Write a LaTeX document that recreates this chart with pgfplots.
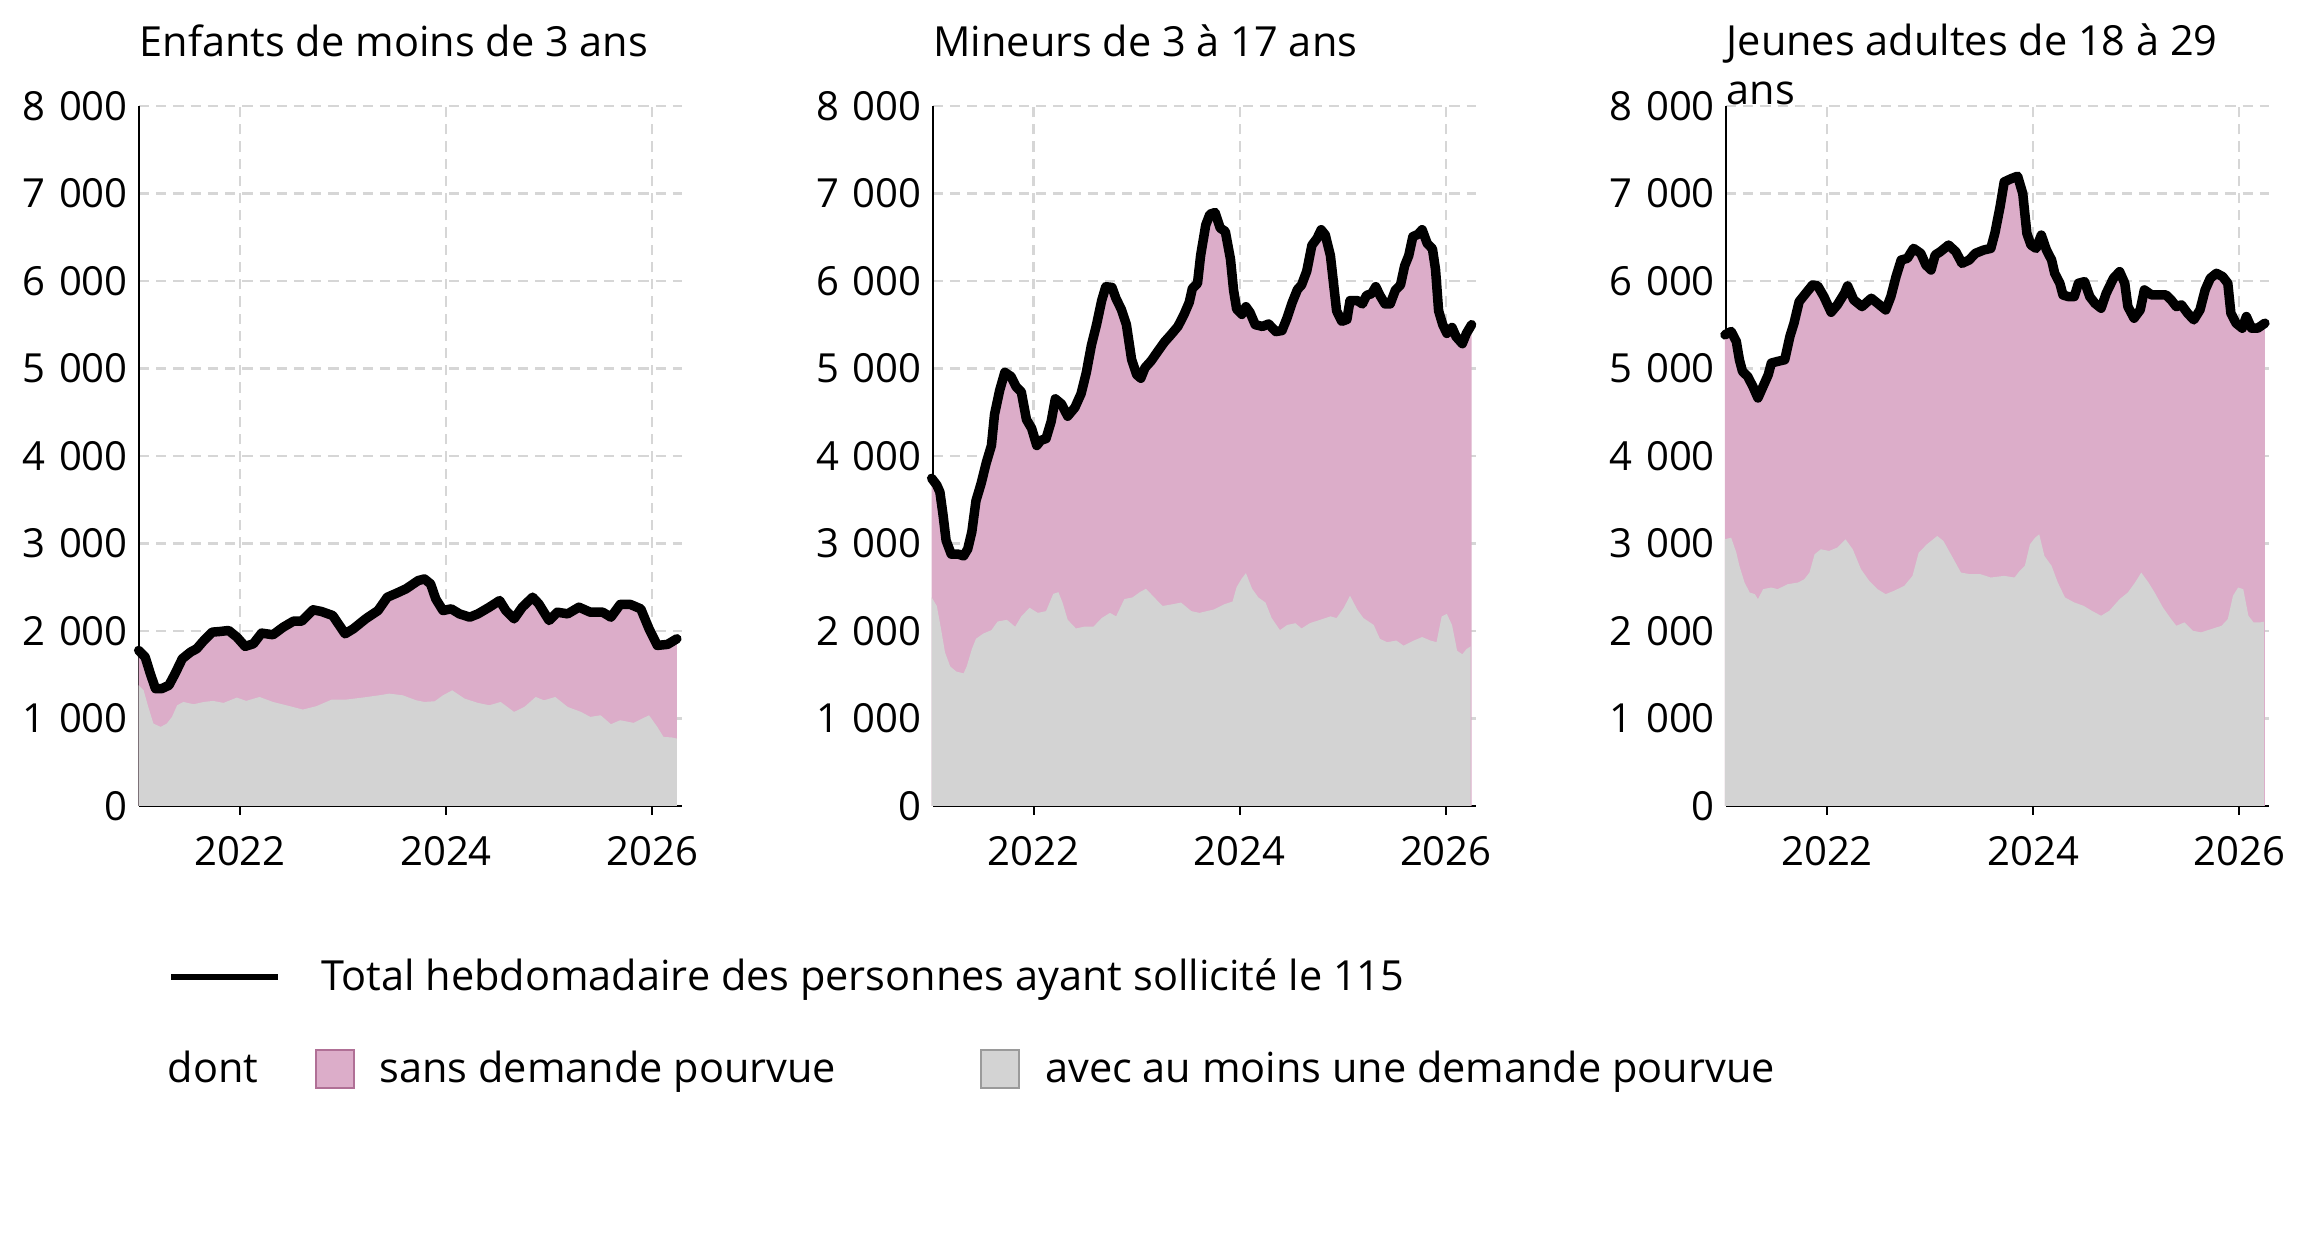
\documentclass[border=0pt]{standalone}
\usepackage{pgfplots}
\pgfplotsset{compat=1.18}
\usepackage{fontspec}
\setmainfont{Open Sans}
\definecolor{pinkc}{HTML}{DCADC9}
\definecolor{greyc}{HTML}{D3D3D3}
\definecolor{gridc}{HTML}{D6D6D6}
\definecolor{pinkb}{HTML}{B07096}
\definecolor{greyb}{HTML}{9A9A9A}

\pgfplotstableread{
x y
2021.017 1778
2021.08 1702
2021.13 1512
2021.18 1341
2021.24 1341
2021.31 1379
2021.37 1512
2021.44 1683
2021.52 1759
2021.58 1797
2021.65 1892
2021.73 1987
2021.81 1995
2021.89 2006
2021.97 1930
2022.05 1824
2022.13 1854
2022.21 1976
2022.32 1957
2022.42 2044
2022.52 2113
2022.60 2113
2022.71 2242
2022.79 2223
2022.90 2177
2023.02 1968
2023.10 2025
2023.22 2139
2023.34 2234
2023.43 2386
2023.52 2432
2023.61 2481
2023.73 2576
2023.79 2595
2023.85 2538
2023.90 2367
2023.97 2234
2024.05 2253
2024.13 2196
2024.23 2158
2024.31 2196
2024.42 2272
2024.52 2348
2024.58 2234
2024.66 2139
2024.74 2272
2024.84 2386
2024.90 2310
2025.00 2120
2025.08 2215
2025.18 2196
2025.29 2272
2025.40 2215
2025.52 2215
2025.60 2158
2025.69 2303
2025.79 2303
2025.89 2253
2025.97 2025
2026.05 1835
2026.15 1847
2026.24 1911
}\totA

\pgfplotstableread{
x y
2021.017 1379
2021.065 1322
2021.11 1132
2021.16 942
2021.23 904
2021.29 942
2021.34 1018
2021.39 1151
2021.45 1189
2021.55 1163
2021.65 1189
2021.74 1201
2021.84 1178
2021.97 1239
2022.06 1201
2022.19 1246
2022.32 1189
2022.45 1151
2022.61 1102
2022.74 1140
2022.89 1216
2023.03 1216
2023.19 1239
2023.35 1265
2023.45 1284
2023.58 1265
2023.71 1208
2023.79 1189
2023.89 1197
2023.97 1265
2024.06 1322
2024.18 1227
2024.31 1178
2024.42 1151
2024.53 1189
2024.66 1075
2024.76 1132
2024.87 1246
2024.95 1208
2025.06 1246
2025.18 1132
2025.31 1075
2025.40 1018
2025.50 1037
2025.60 935
2025.69 980
2025.82 950
2025.97 1037
2026.05 904
2026.11 790
2026.19 783
2026.24 771
}\avecA

\pgfplotstableread{
x y
2021.01 3745
2021.06 3667
2021.09 3588
2021.12 3331
2021.15 3035
2021.20 2878
2021.27 2878
2021.32 2858
2021.36 2937
2021.40 3134
2021.44 3489
2021.49 3686
2021.54 3923
2021.59 4120
2021.62 4475
2021.67 4751
2021.72 4956
2021.78 4909
2021.83 4791
2021.88 4732
2021.93 4416
2021.98 4317
2022.03 4120
2022.07 4179
2022.12 4199
2022.17 4396
2022.21 4653
2022.27 4594
2022.33 4455
2022.40 4554
2022.46 4712
2022.51 4949
2022.56 5264
2022.61 5501
2022.66 5777
2022.70 5935
2022.76 5927
2022.80 5797
2022.85 5678
2022.90 5501
2022.95 5106
2023.00 4929
2023.04 4889
2023.08 5008
2023.14 5087
2023.21 5205
2023.27 5304
2023.33 5383
2023.40 5481
2023.46 5619
2023.51 5757
2023.54 5915
2023.59 5974
2023.62 6290
2023.67 6640
2023.71 6763
2023.76 6783
2023.81 6606
2023.86 6566
2023.91 6250
2023.94 5895
2023.97 5678
2024.02 5619
2024.06 5706
2024.10 5639
2024.15 5501
2024.22 5481
2024.28 5509
2024.35 5422
2024.41 5434
2024.46 5580
2024.51 5757
2024.56 5903
2024.60 5955
2024.65 6112
2024.70 6408
2024.75 6487
2024.79 6586
2024.83 6527
2024.88 6290
2024.91 5974
2024.94 5659
2024.99 5540
2025.04 5560
2025.07 5777
2025.14 5777
2025.19 5738
2025.23 5836
2025.28 5856
2025.32 5935
2025.36 5836
2025.41 5738
2025.46 5738
2025.51 5895
2025.56 5955
2025.60 6172
2025.64 6290
2025.68 6507
2025.73 6534
2025.77 6586
2025.82 6428
2025.87 6369
2025.90 6132
2025.93 5659
2025.97 5501
2026.01 5402
2026.06 5469
2026.10 5363
2026.16 5284
2026.20 5402
2026.25 5501
}\totB

\pgfplotstableread{
x y
2021.01 2384
2021.06 2286
2021.10 2029
2021.14 1753
2021.19 1595
2021.25 1536
2021.32 1516
2021.35 1595
2021.40 1793
2021.44 1911
2021.51 1970
2021.59 2010
2021.65 2108
2021.74 2128
2021.82 2049
2021.88 2167
2021.96 2266
2022.04 2207
2022.12 2227
2022.19 2424
2022.24 2444
2022.28 2325
2022.33 2128
2022.41 2029
2022.49 2049
2022.58 2049
2022.66 2148
2022.74 2207
2022.80 2167
2022.88 2365
2022.96 2384
2023.03 2444
2023.09 2483
2023.17 2384
2023.25 2286
2023.35 2306
2023.43 2325
2023.53 2227
2023.61 2207
2023.68 2227
2023.75 2246
2023.85 2306
2023.93 2337
2023.97 2503
2024.02 2601
2024.06 2661
2024.12 2483
2024.18 2384
2024.25 2325
2024.31 2148
2024.39 2010
2024.46 2069
2024.54 2089
2024.60 2029
2024.68 2089
2024.78 2128
2024.88 2167
2024.94 2148
2025.01 2266
2025.07 2404
2025.14 2246
2025.20 2148
2025.30 2069
2025.36 1911
2025.43 1872
2025.52 1891
2025.59 1832
2025.69 1891
2025.77 1931
2025.85 1891
2025.91 1872
2025.96 2167
2026.01 2195
2026.06 2069
2026.11 1773
2026.16 1734
2026.20 1793
2026.24 1824
}\avecB

\pgfplotstableread{
x y
2021.01 5385
2021.07 5423
2021.12 5309
2021.15 5100
2021.18 4967
2021.23 4910
2021.28 4796
2021.33 4663
2021.38 4796
2021.43 4929
2021.46 5062
2021.52 5081
2021.59 5100
2021.64 5366
2021.68 5518
2021.73 5765
2021.80 5868
2021.86 5955
2021.91 5944
2021.97 5822
2022.04 5643
2022.10 5727
2022.17 5860
2022.20 5944
2022.26 5784
2022.34 5708
2022.43 5803
2022.51 5727
2022.57 5670
2022.62 5822
2022.67 6050
2022.72 6240
2022.78 6259
2022.84 6373
2022.91 6316
2022.96 6183
2023.01 6126
2023.05 6297
2023.10 6335
2023.18 6411
2023.25 6335
2023.31 6202
2023.38 6240
2023.44 6316
2023.52 6354
2023.59 6373
2023.63 6550
2023.68 6850
2023.72 7133
2023.79 7171
2023.85 7198
2023.90 7000
2023.94 6544
2023.98 6411
2024.03 6373
2024.08 6525
2024.13 6354
2024.18 6240
2024.21 6088
2024.26 5974
2024.29 5841
2024.34 5822
2024.40 5822
2024.44 5974
2024.50 5993
2024.55 5822
2024.60 5746
2024.66 5689
2024.71 5860
2024.78 6031
2024.84 6107
2024.89 5974
2024.92 5708
2024.98 5575
2025.04 5670
2025.08 5898
2025.15 5841
2025.21 5841
2025.29 5841
2025.34 5784
2025.39 5708
2025.44 5727
2025.50 5632
2025.56 5556
2025.62 5670
2025.67 5898
2025.72 6031
2025.78 6088
2025.84 6050
2025.89 5974
2025.92 5632
2025.97 5518
2026.03 5461
2026.07 5594
2026.12 5461
2026.18 5461
2026.25 5518
}\totC

\pgfplotstableread{
x y
2021.01 3048
2021.07 3067
2021.12 2896
2021.15 2744
2021.20 2554
2021.25 2440
2021.30 2421
2021.33 2364
2021.38 2478
2021.46 2497
2021.52 2478
2021.62 2535
2021.72 2554
2021.78 2592
2021.83 2668
2021.88 2877
2021.94 2934
2022.02 2915
2022.10 2953
2022.18 3048
2022.25 2934
2022.33 2706
2022.41 2573
2022.49 2478
2022.57 2421
2022.65 2459
2022.75 2516
2022.83 2630
2022.89 2896
2022.97 2991
2023.07 3086
2023.13 3029
2023.22 2839
2023.30 2668
2023.39 2649
2023.49 2649
2023.59 2611
2023.72 2630
2023.82 2611
2023.87 2687
2023.92 2744
2023.97 2991
2024.02 3067
2024.06 3105
2024.11 2858
2024.18 2744
2024.24 2554
2024.31 2383
2024.40 2326
2024.49 2288
2024.57 2231
2024.66 2174
2024.74 2231
2024.84 2364
2024.92 2440
2024.99 2554
2025.05 2668
2025.12 2554
2025.18 2440
2025.26 2269
2025.34 2136
2025.39 2060
2025.47 2098
2025.55 2003
2025.63 1984
2025.73 2022
2025.83 2060
2025.89 2136
2025.94 2402
2025.99 2497
2026.04 2478
2026.09 2174
2026.14 2098
2026.20 2098
2026.24 2106
}\avecC

\newcommand{\fs}{\fontsize{11.8}{13.7}\selectfont}
\newcommand{\ft}{\fontsize{11.4}{13.7}\selectfont}
\newcommand{\ts}{\hspace{0.33em}}

\pgfplotsset{
  every axis title shift=0pt,
  panel/.style={
    width=5.43cm, height=7.0cm, scale only axis,
    xmin=2021.02, xmax=2026.29, ymin=0, ymax=8000,
    axis x line*=bottom, axis y line*=left,
    axis line style={line width=0.6pt, black, -},
    xtick={2022,2024,2026}, xticklabels={2022,2024,2026},
    ytick={0,1000,2000,3000,4000,5000,6000,7000,8000},
    yticklabels={0,1\ts000,2\ts000,3\ts000,4\ts000,5\ts000,6\ts000,7\ts000,8\ts000},
    grid=major,
    grid style={gridc, line width=0.7pt, dash pattern=on 2.9pt off 2pt},
    tick align=outside,
    major tick length=0.09cm,
    x tick style={black, line width=0.6pt},
    y tick style={draw=none},
    tick label style={font=\ft, inner sep=0pt},
    xticklabel style={yshift=-0.21cm},
    yticklabel style={xshift=-0.015cm},
    clip=false,
    title style={at={(0,1)}, anchor=base west, yshift=0.5cm, align=left, font=\fs, inner sep=0pt},
  },
  pinkarea/.style={fill=pinkc, draw=none, forget plot},
  greyarea/.style={fill=greyc, draw=none, forget plot},
  totline/.style={black, line width=2.7pt, line join=round, line cap=round, forget plot},
}

\begin{document}
\begin{tikzpicture}
\path[use as bounding box] (0,0) rectangle (23cm,12.5cm);

\begin{axis}[panel, at={(1.39cm,4.44cm)}, anchor=south west,
  title={Enfants de moins de 3 ans},
  legend style={at={(0.0534,-0.2443)}, anchor=west, draw=none, fill=none,
    inner sep=0pt, outer sep=0pt, font=\fs, legend cell align=left,
    nodes={inner sep=0pt},
    /tikz/column 1/.style={column sep=0.40cm}},
]
\addplot[pinkarea] table {\totA} \closedcycle;
\addplot[greyarea] table {\avecA} \closedcycle;
\addplot[totline] table {\totA};
\addlegendimage{legend image code/.code={\draw[black, line width=1.9pt] (0cm,0cm) -- (1.07cm,0cm);}}
\addlegendentry{Total hebdomadaire des personnes ayant sollicité le 115}
\end{axis}

\begin{axis}[panel, at={(9.327cm,4.44cm)}, anchor=south west,
  title={Mineurs de 3 à 17 ans},
  legend columns=3,
  legend style={at={(-1.4083,-0.3757)}, anchor=west, draw=none, fill=none,
    inner sep=0pt, outer sep=0pt, font=\fs, legend cell align=left,
    nodes={inner sep=0pt},
    /tikz/column 1/.style={column sep=0cm},
    /tikz/column 2/.style={column sep=0.56cm},
    /tikz/column 3/.style={column sep=0.25cm},
    /tikz/column 4/.style={column sep=1.44cm},
    /tikz/column 5/.style={column sep=0.25cm}},
]
\addplot[pinkarea] table {\totB} \closedcycle;
\addplot[greyarea] table {\avecB} \closedcycle;
\addplot[totline] table {\totB};
\addlegendimage{empty legend}
\addlegendentry{dont}
\addlegendimage{legend image code/.code={\draw[fill=pinkc, draw=pinkb, line width=0.6pt] (0cm,-0.19cm) rectangle (0.38cm,0.19cm);}}
\addlegendentry{sans demande pourvue}
\addlegendimage{legend image code/.code={\draw[fill=greyc, draw=greyb, line width=0.6pt] (0cm,-0.19cm) rectangle (0.38cm,0.19cm);}}
\addlegendentry{avec au moins une demande pourvue}
\end{axis}

\begin{axis}[panel, at={(17.26cm,4.44cm)}, anchor=south west,
  title={Jeunes adultes de 18 à 29\\ans},
  title style={yshift=-0.48cm},
]
\addplot[pinkarea] table {\totC} \closedcycle;
\addplot[greyarea] table {\avecC} \closedcycle;
\addplot[totline] table {\totC};
\end{axis}
\end{tikzpicture}
\end{document}
